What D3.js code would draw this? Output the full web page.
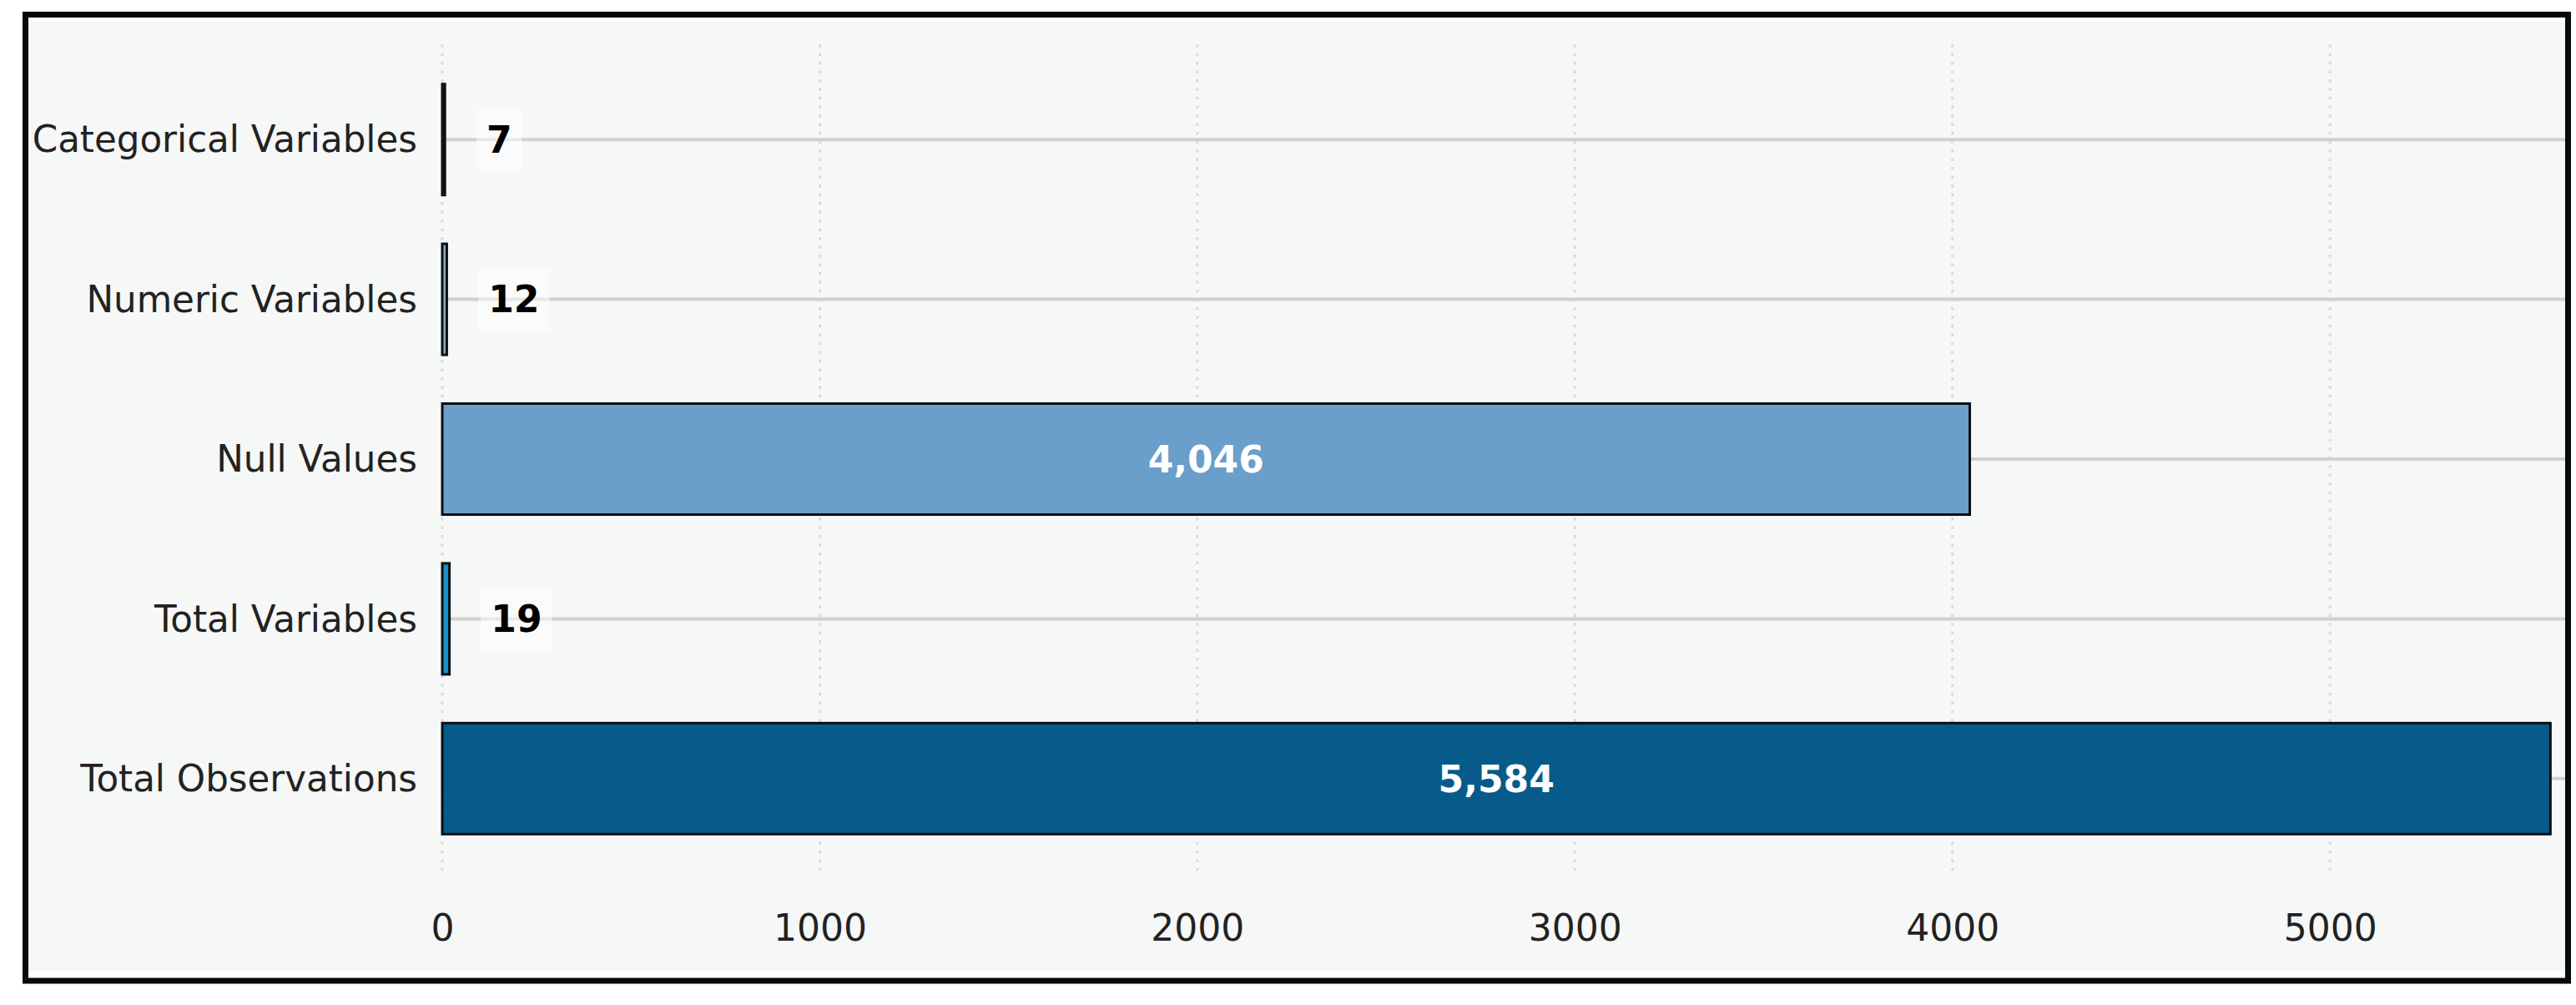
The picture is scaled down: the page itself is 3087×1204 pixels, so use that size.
<!DOCTYPE html>
<html>
<head>
<meta charset="utf-8">
<script src="https://cdn.jsdelivr.net/npm/d3@7"></script>
<style>
  html, body { margin: 0; padding: 0; background: #ffffff; }
  svg { display: block; }
</style>
</head>
<body>
<div id="chart"></div>
<script>
const categories = ["Categorical Variables", "Numeric Variables", "Null Values", "Total Variables", "Total Observations"];
const values = [7, 12, 4046, 19, 5584];
const barColors = ["#24333d", "#86b4c8", "#6a9ecb", "#1a8fc3", "#065b8b"];
const xTicks = [0, 1000, 2000, 3000, 4000, 5000];
const xMax = 5623;

const W = 3087, H = 1204;
const svg = d3.select("#chart").append("svg").attr("width", W).attr("height", H);

// frame and plot background
svg.append("rect").attr("x", 33).attr("y", 26).attr("width", 3041).attr("height", 1137).attr("fill", "#f6f7f7");
svg.append("rect").attr("x", 30.5).attr("y", 17.5).attr("width", 3047).attr("height", 1157.5)
  .attr("fill", "none").attr("stroke", "#050a0a").attr("stroke-width", 7);

const x = d3.scaleLinear().domain([0, xMax]).range([530, 3074]);
const y = d3.scaleBand().domain(categories).range([71.5, 1028.5]).paddingInner(0.305).paddingOuter(0.1525);

const font = "'DejaVu Sans', sans-serif";

// vertical dotted grid
svg.append("g").selectAll("line").data(xTicks).join("line")
  .attr("x1", d => x(d)).attr("x2", d => x(d))
  .attr("y1", 53).attr("y2", 1043)
  .attr("stroke", "#d9dbdb").attr("stroke-width", 3).attr("stroke-dasharray", "3.5,7");

// horizontal grid lines at category centers
svg.append("g").selectAll("line").data(categories).join("line")
  .attr("x1", x(0)).attr("x2", 3074)
  .attr("y1", d => y(d) + y.bandwidth() / 2).attr("y2", d => y(d) + y.bandwidth() / 2)
  .attr("stroke", "#cfd0d0").attr("stroke-width", 4);

// bars
svg.append("g").selectAll("rect").data(values).join("rect")
  .attr("x", x(0))
  .attr("y", (d, i) => y(categories[i]))
  .attr("width", d => x(d) - x(0))
  .attr("height", y.bandwidth())
  .attr("fill", (d, i) => barColors[i])
  .attr("stroke", "#0d0f10").attr("stroke-width", 3);

// x axis tick labels
const xAxis = d3.axisBottom(x).tickValues(xTicks).tickSize(0).tickPadding(0).tickFormat(d3.format("d"));
const gx = svg.append("g").attr("transform", "translate(0,1095)").call(xAxis);
gx.select(".domain").remove();
gx.selectAll("text").attr("font-family", font).attr("font-size", 44).attr("fill", "#222")
  .attr("dy", "0.72em").attr("y", 0);

// y axis labels
const yAxis = d3.axisLeft(y).tickSize(0).tickPadding(0);
const gy = svg.append("g").attr("transform", "translate(500,0)").call(yAxis);
gy.select(".domain").remove();
gy.selectAll("text").attr("font-family", font).attr("font-size", 43.6).attr("fill", "#222").attr("dy", "0.35em");

// value labels
const fmt = d3.format(",");
const labelG = svg.append("g");
values.forEach((v, i) => {
  const cy = y(categories[i]) + y.bandwidth() / 2;
  const inside = v > 1000;
  const g = labelG.append("g");
  const t = g.append("text")
    .attr("x", inside ? (x(0) + x(v)) / 2 : x(v + 110))
    .attr("y", cy)
    .attr("dy", "0.36em")
    .attr("text-anchor", inside ? "middle" : "start")
    .attr("font-family", font).attr("font-size", 44).attr("font-weight", "bold")
    .attr("fill", inside ? "#ffffff" : "#000000")
    .text(fmt(v));
  if (!inside) {
    const bb = t.node().getBBox();
    const pad = 12;
    g.insert("rect", "text")
      .attr("x", bb.x - pad).attr("y", bb.y - pad)
      .attr("width", bb.width + 2 * pad).attr("height", bb.height + 2 * pad)
      .attr("fill", "#ffffff").attr("opacity", 0.5);
  }
});
</script>
</body>
</html>
